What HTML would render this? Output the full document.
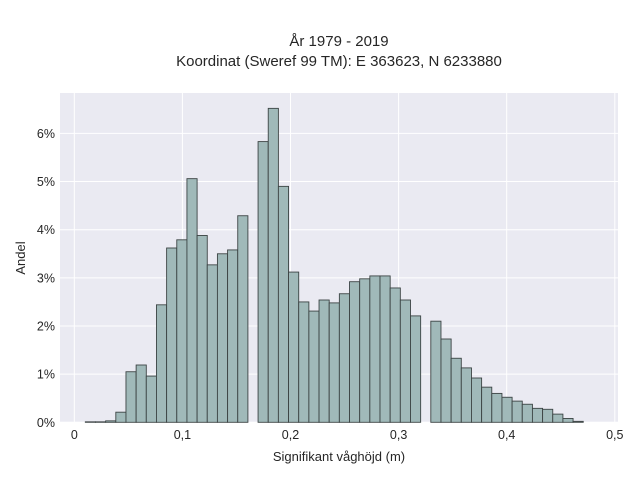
<!DOCTYPE html>
<html><head><meta charset="utf-8"><style>
body{margin:0;background:#fff;width:640px;height:480px;overflow:hidden}
svg text{font-family:"Liberation Sans",sans-serif;fill:#262626}
</style></head><body>
<svg id="chart" width="640" height="480" xmlns="http://www.w3.org/2000/svg">
<text x="339" y="46" text-anchor="middle" font-size="15">År 1979 - 2019</text>
<text x="339" y="66" text-anchor="middle" font-size="15">Koordinat (Sweref 99 TM): E 363623, N 6233880</text>
<rect x="60" y="93" width="558" height="329.5" fill="#eaeaf2"/>
<g id="grid"></g>
<g id="bars"></g>
<g id="ticks"></g>
<text x="339" y="461" text-anchor="middle" font-size="13">Signifikant våghöjd (m)</text>
<text transform="translate(25,258) rotate(-90)" text-anchor="middle" font-size="13">Andel</text>
</svg>
<script>
const binStart = 0.0102;
const binWidth = 0.0094;
const shares = [0.01,0.01,0.03,0.21,1.05,1.19,0.96,2.44,3.62,3.79,5.06,3.88,3.27,3.50,3.58,4.29,0,5.83,6.52,4.90,3.12,2.50,2.31,2.54,2.48,2.67,2.92,2.98,3.04,3.04,2.79,2.54,2.21,0,2.10,1.73,1.33,1.13,0.92,0.73,0.60,0.52,0.44,0.375,0.29,0.27,0.17,0.08,0.02];
const xTicks = [0,0.1,0.2,0.3,0.4,0.5];
const xTickLabels = ["0","0,1","0,2","0,3","0,4","0,5"];
const yTicks = [0,1,2,3,4,5,6];
const yTickLabels = ["0%","1%","2%","3%","4%","5%","6%"];
const NS="http://www.w3.org/2000/svg";
function xs(v){return 74.3+v*1081;}
function ys(v){return 422.3-v*48.15;}
function mk(t,a,p){const e=document.createElementNS(NS,t);for(const k in a)e.setAttribute(k,a[k]);p.appendChild(e);return e;}
const grid=document.getElementById('grid'),bars=document.getElementById('bars'),ticks=document.getElementById('ticks');
xTicks.forEach((v,i)=>{
 const l=mk('line',{x1:xs(v),x2:xs(v),y1:93,y2:422.5,stroke:'#fff','stroke-width':1},grid);
 
 
 const t=mk('text',{x:xs(v),y:439,'text-anchor':'middle','font-size':12.5},ticks);t.textContent=xTickLabels[i];
 
 
});
yTicks.forEach((v,i)=>{
 const l=mk('line',{x1:60,x2:618,y1:ys(v),y2:ys(v),stroke:'#fff','stroke-width':1},grid);
 
 
 const t=mk('text',{x:55,y:ys(v)+4.5,'text-anchor':'end','font-size':12.5},ticks);t.textContent=yTickLabels[i];
 
 
});
shares.forEach((v,i)=>{
 if(v<=0)return;
 const x0=xs(binStart+i*binWidth),x1=xs(binStart+(i+1)*binWidth);
 const r=mk('rect',{x:x0,y:ys(v),width:x1-x0,height:ys(0)-ys(v),fill:'#a0b9b9',stroke:'#3c4444','stroke-width':0.9},bars);
 
 
});
</script>
</body></html>
